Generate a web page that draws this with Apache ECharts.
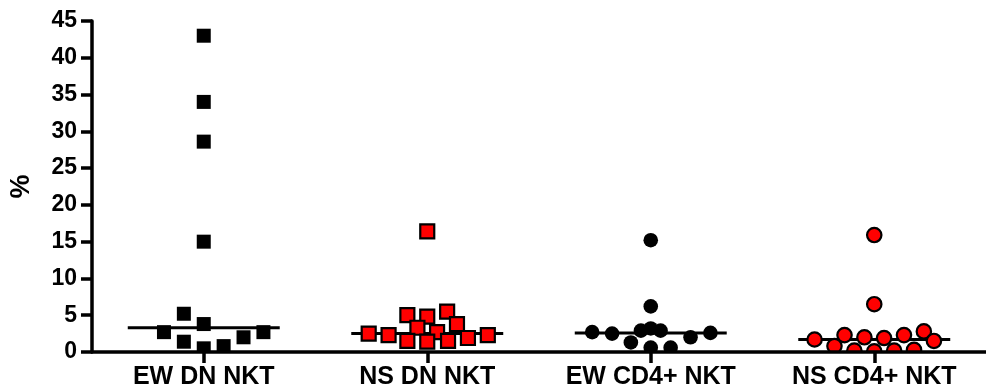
<!DOCTYPE html>
<html>
<head>
<meta charset="utf-8">
<script src="https://cdn.jsdelivr.net/npm/echarts@6/dist/echarts.min.js"></script>
<style>
html,body{margin:0;padding:0;background:#fff;}
#chart{width:986px;height:390px;}
</style>
</head>
<body>
<div id="chart"></div>
<script>
// ---- data ----
const categories = ['EW DN NKT', 'NS DN NKT', 'EW CD4+ NKT', 'NS CD4+ NKT'];
const yTicks = [0, 5, 10, 15, 20, 25, 30, 35, 40, 45];

// values (%) and horizontal jitter offsets (in category units) per group
const ewDnValues   = [43.0, 34.0, 28.6, 15.0, 5.2, 3.8, 2.7, 1.4, 0.5, 0.8, 2.0, 2.7];
const ewDnJitter   = [0, 0, 0, 0, -0.089, 0, -0.178, -0.089, 0, 0.089, 0.178, 0.267];

const nsDnValues   = [16.4, 5.0, 4.8, 5.5, 3.8, 3.3, 2.7, 2.5, 2.3, 1.5, 1.4, 1.5, 1.9, 2.3];
const nsDnJitter   = [0, -0.089, 0, 0.089, 0.133, -0.044, 0.044, -0.262, -0.173, -0.089, 0, 0.093, 0.182, 0.271];

const ewCd4Values  = [15.2, 6.2, 2.7, 2.5, 2.9, 3.2, 2.9, 1.3, 0.6, 0.6, 2.0, 2.6];
const ewCd4Jitter  = [0, 0, -0.262, -0.173, -0.044, 0, 0.044, -0.089, 0, 0.089, 0.178, 0.267];

const nsCd4Values  = [15.9, 6.5, 1.7, 0.8, 2.3, 0.2, 2.0, 0.1, 1.9, 0.2, 2.3, 0.3, 2.8, 1.5];
const nsCd4Jitter  = [0, 0, -0.267, -0.178, -0.133, -0.089, -0.044, 0, 0.044, 0.089, 0.133, 0.178, 0.222, 0.267];

const medians = [3.3, 2.5, 2.6, 1.7];
const medianHalfWidth = 0.34;

// ---- build ----
function pts(catIndex, values, jitter) {
  return values.map((v, i) => [catIndex + jitter[i], v]);
}

const FONT = '"Liberation Sans", Arial, Helvetica, sans-serif';

function markerSeries(name, data, shape, fill, stroke) {
  return {
    name: name,
    type: 'custom',
    xAxisIndex: 1,
    yAxisIndex: 0,
    clip: true,
    z: 5,
    data: data,
    encode: { x: 0, y: 1 },
    renderItem: function (params, api) {
      const p = api.coord([api.value(0), api.value(1)]);
      const hasStroke = !!stroke;
      if (shape === 'square') {
        const s = 14;
        return {
          type: 'rect',
          shape: { x: p[0] - s / 2, y: p[1] - s / 2, width: s, height: s },
          style: { fill: fill, stroke: hasStroke ? stroke : null, lineWidth: hasStroke ? 2.2 : 0 }
        };
      } else {
        const r = hasStroke ? 7.2 : 7.3;
        return {
          type: 'circle',
          shape: { cx: p[0], cy: p[1], r: r },
          style: { fill: fill, stroke: hasStroke ? stroke : null, lineWidth: hasStroke ? 2.2 : 0 }
        };
      }
    }
  };
}

const medianSeries = {
  name: 'median',
  type: 'custom',
  xAxisIndex: 1,
  yAxisIndex: 0,
  z: 3,
  data: medians.map((m, i) => [i, m]),
  encode: { x: 0, y: 1 },
  renderItem: function (params, api) {
    const a = api.coord([api.value(0) - medianHalfWidth, api.value(1)]);
    const b = api.coord([api.value(0) + medianHalfWidth, api.value(1)]);
    return {
      type: 'line',
      shape: { x1: a[0], y1: a[1], x2: b[0], y2: b[1] },
      style: { stroke: '#000', lineWidth: 3 }
    };
  }
};

const chart = echarts.init(document.getElementById('chart'), null, { renderer: 'canvas' });
chart.setOption({
  animation: false,
  backgroundColor: '#fff',
  grid: { left: 92, right: -7, top: 21, bottom: 36, containLabel: false },
  xAxis: [
    {
      type: 'category',
      data: categories,
      boundaryGap: true,
      z: 10,
      axisLine: { onZero: false, lineStyle: { color: '#000', width: 3.5 } },
      axisTick: { show: true, alignWithLabel: true, interval: 0, length: 11, lineStyle: { color: '#000', width: 3.5 } },
      axisLabel: { interval: 0, hideOverlap: false, color: '#000', fontFamily: FONT, fontWeight: 'bold', fontSize: 25, margin: 13 },
      splitLine: { show: false }
    },
    {
      type: 'value',
      min: -0.5,
      max: 3.5,
      show: false,
      splitLine: { show: false }
    }
  ],
  yAxis: [{
    type: 'value',
    min: yTicks[0],
    max: yTicks[yTicks.length - 1],
    interval: yTicks[1] - yTicks[0],
    name: '%',
    nameLocation: 'middle',
    nameRotate: 90,
    nameGap: 57,
    nameTextStyle: { color: '#000', fontFamily: FONT, fontWeight: 'bold', fontSize: 27 },
    z: 10,
    axisLine: { show: true, onZero: false, lineStyle: { color: '#000', width: 3.5 } },
    axisTick: { show: true, length: 11, lineStyle: { color: '#000', width: 3.5 } },
    axisLabel: { color: '#000', fontFamily: FONT, fontWeight: 'bold', fontSize: 23, margin: 15 },
    splitLine: { show: false }
  }],
  series: [
    medianSeries,
    markerSeries('EW DN NKT', pts(0, ewDnValues, ewDnJitter), 'square', '#000', null),
    markerSeries('NS DN NKT', pts(1, nsDnValues, nsDnJitter), 'square', '#ff0000', '#000'),
    markerSeries('EW CD4+ NKT', pts(2, ewCd4Values, ewCd4Jitter), 'circle', '#000', null),
    markerSeries('NS CD4+ NKT', pts(3, nsCd4Values, nsCd4Jitter), 'circle', '#ff0000', '#000')
  ]
});
</script>
</body>
</html>
